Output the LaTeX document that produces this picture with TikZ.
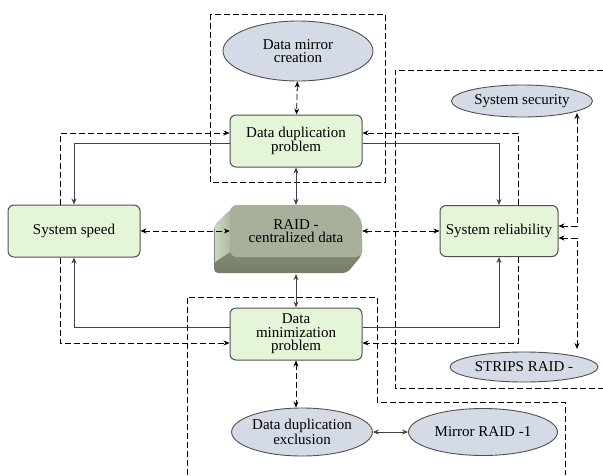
\documentclass[tikz,border=0pt]{standalone}
\usepackage{fontspec}
\setmainfont{Liberation Serif}
\usetikzlibrary{shapes.geometric, arrows.meta}
\definecolor{boxgreen}{RGB}{228,245,216}
\definecolor{ovalblue}{RGB}{212,219,230}
\definecolor{edgegray}{RGB}{80,80,80}
\tikzstyle{issue} = [rectangle, rounded corners=6pt, minimum width=132pt, minimum height=52pt, text centered, align=center, draw=edgegray, line width=1pt, fill=boxgreen, inner sep=1pt]
\tikzstyle{aspect} = [ellipse, minimum width=148pt, minimum height=32pt, text centered, align=center, draw=edgegray, line width=0.9pt, fill=ovalblue, inner sep=0pt]
\tikzstyle{region} = [black, line width=0.8pt, dash pattern=on 6pt off 3pt]
\tikzstyle{arrow} = [->, >={Stealth[length=6pt,width=5pt]}, line width=1pt, draw=black!75]
\tikzstyle{biarrow} = [<->, >={Stealth[length=6pt,width=5pt]}, line width=1pt, draw=black!75]
\tikzstyle{darrow} = [->, >={Stealth[length=6pt,width=5pt]}, line width=0.8pt, dash pattern=on 6pt off 3pt]
\tikzstyle{dbiarrow} = [<->, >={Stealth[length=6pt,width=5pt]}, line width=0.8pt, dash pattern=on 6pt off 3pt]
\begin{document}
\begin{tikzpicture}[x=1pt, y=-1pt, font=\fontsize{15}{13.5}\selectfont]
	\useasboundingbox (0,0) rectangle (603,475);

	% dashed frames
	\draw [region] (210,14) rectangle (385,182);
	\draw [region] (603,70) -- (395,70) -- (395,388) -- (603,388);
	\draw [region] (187,475) -- (187,297) -- (377,297) -- (377,402) -- (565,402) -- (565,475);

	% RAID block
	\shade [top color={rgb,255:red,150;green,160;blue,137}, bottom color={rgb,255:red,118;green,126;blue,106}, rounded corners=4pt] (230,210) -- (214,226) -- (214,273) -- (347,273) -- (362,255) -- (362,240) -- cycle;
	\shade [left color={rgb,255:red,205;green,214;blue,192}, right color={rgb,255:red,175;green,186;blue,163}] (230,210) -- (215,226) -- (215,262) -- (230,252) -- cycle;
	\fill [fill={rgb,255:red,166;green,176;blue,155}, rounded corners=7pt] (230,205) -- (348,205) -- (362,219) -- (362,257) -- (230,257) -- cycle;

	\node (dupprob) [issue] at (296,141) {Data duplication\\problem};
	\node (mirrorcr) [aspect, minimum width=150pt, minimum height=60pt] at (298,51) {Data mirror\\creation};
	\node (speed) [issue] at (74,231) {System speed};
	\node (raid) [minimum width=132pt, minimum height=52pt, align=center] at (296,231) {RAID -\\centralized data};
	\node (reliab) [issue, minimum width=118pt, minimum height=51pt] at (499,231) {System reliability};
	\node (minprob) [issue] at (296,334) {Data\\minimization\\problem};
	\node (security) [aspect, minimum width=141pt] at (522,101) {System security};
	\node (strips) [aspect, minimum width=148pt, minimum height=30pt] at (524,367) {STRIPS RAID -};
	\node (dupexcl) [aspect, minimum width=140pt, minimum height=48pt] at (302,432) {Data duplication\\exclusion};
	\node (mirror1) [aspect, minimum width=149pt, minimum height=47pt] at (483,432) {Mirror RAID -1};
	\coordinate (raidbase) at (296,274);
	\coordinate (secfoot) at (577,113);
	\coordinate (stripstop) at (577,349);

	\draw [arrow] ([yshift=-2pt]dupprob.west) -| (speed.north);
	\draw [arrow] ([yshift=-2pt]dupprob.east) -| (reliab.north);
	\draw [arrow] ([yshift=7pt]minprob.west) -| (speed.south);
	\draw [arrow] ([yshift=7pt]minprob.east) -| (reliab.south);
	\draw [darrow] ([xshift=-14pt]speed.north) |- ([yshift=8pt]dupprob.west);
	\draw [darrow] ([xshift=-14pt]speed.south) |- ([yshift=-9pt]minprob.west);
	\draw [darrow] ([xshift=19pt]reliab.north) |- ([yshift=8pt]dupprob.east);
	\draw [darrow] ([xshift=19pt]reliab.south) |- ([yshift=-9pt]minprob.east);
	\draw [dbiarrow] (speed) -- (raid);
	\draw [dbiarrow] (raid) -- (reliab);
	\draw [biarrow] (dupprob) -- (raid);
	\draw [biarrow] (raidbase) -- (minprob);
	\draw [dbiarrow] (mirrorcr) -- (dupprob);
	\draw [dbiarrow] (minprob) -- (minprob |- dupexcl.north);
	\draw [biarrow] (dupexcl) -- (mirror1);
	\draw [dbiarrow] ([yshift=5pt]reliab.east) -| (secfoot);
	\draw [dbiarrow] ([yshift=-7pt]reliab.east) -| (stripstop);
	\end{tikzpicture}
\end{document}
